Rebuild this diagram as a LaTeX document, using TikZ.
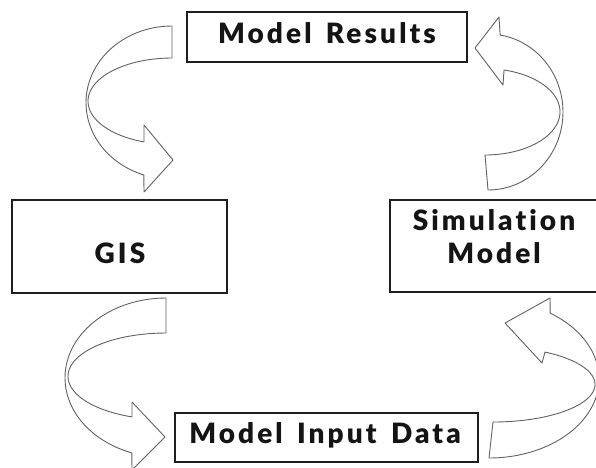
\documentclass[tikz,border=0pt]{standalone}
\usepackage{fontspec}
\newfontfamily\lblfont{Lato Black}[LetterSpace=11,WordSpace=1.5,Ligatures={NoCommon}]
\begin{document}
\begin{tikzpicture}[x=1pt,y=-1pt,
  box/.style={draw=black!88,line width=2pt,inner sep=0pt},
  ribbon/.style={draw=black!62,line width=0.9pt,line join=round},
  lbl/.style={font=\lblfont\fontsize{28}{34}\selectfont,anchor=base,inner sep=0pt,text=black!92}]
\useasboundingbox (0,0) rectangle (596,467);

% boxes
\node[box,minimum width=280pt,minimum height=50pt] (res) at (327,37) {};
\node[box,minimum width=215pt,minimum height=93pt] (gis) at (119.5,246.5) {};
\node[box,minimum width=209pt,minimum height=92pt] (sim) at (494.5,246) {};
\node[box,minimum width=303pt,minimum height=49pt] (inp) at (326.5,437.5) {};

% labels
\node[lbl] (resT) at (327,43) {Model Results};
\node[lbl] (gisT) at (120,263) {GIS};
\node[lbl] (simA) at (494,230) {Simulation};
\node[lbl] (simB) at (494,263) {Model};
\node[lbl] (inpT) at (325,443) {Model Input Data};

% twisted ribbon arrows: Model Results -> GIS
\draw[ribbon] (172,58) -- (172,26)
  -- plot[domain=0:1,samples=60,variable=\t] ({172+86*cos(-90-161*\t)},{102.6+76.6*sin(-90-161*\t)})
  -- (144,192) -- (173,160) -- (144,125)
  -- plot[domain=0:1,samples=60,variable=\t] ({172+84*cos(-250.53+160.53*\t)},{101.2+43.2*sin(-250.53+160.53*\t)})
  -- cycle;

% Simulation Model -> Model Results
\draw[ribbon] (485,155) -- (488,190)
  -- plot[domain=0:1,samples=60,variable=\t] ({488+75*cos(90-170.8*\t)},{112+78*sin(90-170.8*\t)})
  -- (499,17) -- (475,48) -- (503,85)
  -- plot[domain=0:1,samples=60,variable=\t] ({485+75*cos(-75.3+165.3*\t)},{111.8+43.2*sin(-75.3+165.3*\t)})
  -- cycle;

% GIS -> Model Input Data
\draw[ribbon] (166,333) -- (166,298)
  -- plot[domain=0:1,samples=60,variable=\t] ({166+101*cos(-90-160.33*\t)},{377.8+79.8*sin(-90-160.33*\t)})
  -- (132,470) -- (165,437) -- (132,402)
  -- plot[domain=0:1,samples=60,variable=\t] ({166+98*cos(-249.7+159.7*\t)},{376.3+43.3*sin(-249.7+159.7*\t)})
  -- cycle;

% Model Input Data -> Simulation Model
\draw[ribbon] (493,422) -- (489,458)
  -- plot[domain=0:1,samples=60,variable=\t] ({489+110*cos(90-146.32*\t)},{378.9+79.1*sin(90-146.32*\t)})
  -- (550,298) -- (505,323) -- (542,363)
  -- plot[domain=0:1,samples=60,variable=\t] ({493+102*cos(-59.35+149.35*\t)},{384.4+37.6*sin(-59.35+149.35*\t)})
  -- cycle;
\end{tikzpicture}
\end{document}
